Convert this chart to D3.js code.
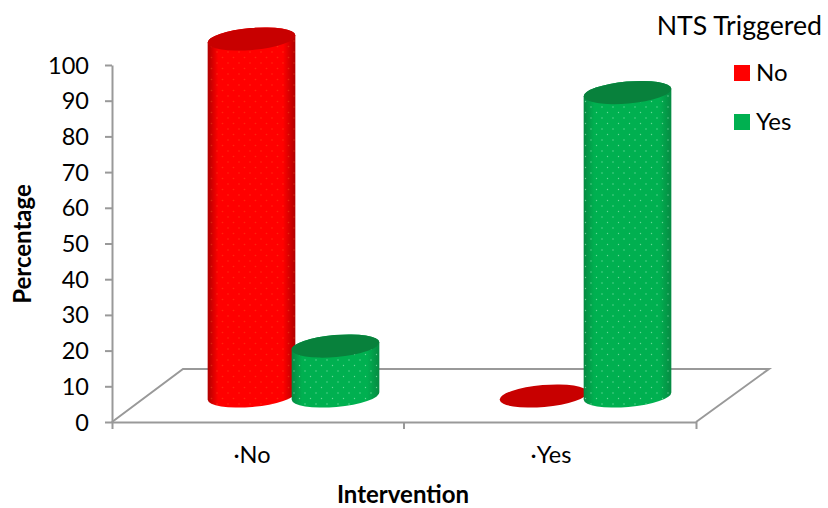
<!DOCTYPE html>
<html>
<head>
<meta charset="utf-8">
<script src="https://cdn.jsdelivr.net/npm/d3@7"></script>
<style>
  body { margin: 0; background: #fff; }
  text { font-family: Lato, "Open Sans", sans-serif; fill: #000; }
  .axis path, .axis line { stroke: #999; stroke-width: 2; }
  .axis text { font-size: 23.5px; font-family: Lato, sans-serif; fill: #000; }
</style>
</head>
<body>
<div id="chart"></div>
<script>
// chart data
var categories = ["·No", "·Yes"];
var seriesNames = ["No", "Yes"];
var noValues = [100, 0];
var yesValues = [14, 85];
var yTicks = [0, 10, 20, 30, 40, 50, 60, 70, 80, 90, 100];
var seriesColors = {No: "#ff0000", Yes: "#00b050"};

var width = 828, height = 508;

// the floor is a slanted plane behind the axis
var depthX = 71, depthY = 53;
var rx = 44, ry = 11, tilt = -5;

var svg = d3.select("#chart").append("svg")
    .attr("width", width)
    .attr("height", height);

var x = d3.scaleBand().domain(categories).range([112, 696]);
var inner = d3.scaleBand().domain(seriesNames).range([-84, 84]);
var y = d3.scaleLinear().domain([0, 100]).range([422, 65]);

var defs = svg.append("defs");

// side shading + dots for one colour
function addFill(name, edge, mid, dot, dotOpacity, dotR) {
  var grad = defs.append("linearGradient").attr("id", "grad" + name);
  grad.append("stop").attr("offset", "0%").attr("stop-color", edge);
  grad.append("stop").attr("offset", "12%").attr("stop-color", mid);
  grad.append("stop").attr("offset", "86%").attr("stop-color", mid);
  grad.append("stop").attr("offset", "100%").attr("stop-color", edge);

  var pat = defs.append("pattern").attr("id", "dots" + name)
      .attr("patternUnits", "userSpaceOnUse")
      .attr("width", 11).attr("height", 11);
  pat.append("circle").attr("cx", 2.5).attr("cy", 2.5).attr("r", dotR)
      .attr("fill", dot).attr("opacity", dotOpacity);
  pat.append("circle").attr("cx", 8).attr("cy", 8).attr("r", dotR)
      .attr("fill", dot).attr("opacity", dotOpacity);
}
addFill("No", "#b00000", "#ff0000", "#ff7a30", 0.3, 0.8);
addFill("Yes", "#068a42", "#00b050", "#a8f5c8", 0.6, 0.7);

// floor
var floorLine = d3.line();
svg.append("path")
    .attr("d", floorLine([[x.range()[0], y(0)], [x.range()[0] + depthX, y(0) - depthY],
                          [x.range()[1] + depthX + 2, y(0) - depthY], [x.range()[1], y(0)]]))
    .attr("fill", "none")
    .attr("stroke", "#999")
    .attr("stroke-width", 2);

// y axis
svg.append("g")
    .attr("class", "axis")
    .attr("transform", "translate(112,0)")
    .call(d3.axisLeft(y).tickValues(yTicks).tickSize(7).tickPadding(16).tickSizeOuter(0))
  .selectAll("text")
    .attr("dy", "0.34em");

// x axis, with the ticks between the categories
var labelShift = [-6, 1];
var xAxis = svg.append("g")
    .attr("class", "axis")
    .attr("transform", "translate(0,422)")
    .call(d3.axisBottom(x).tickSize(0).tickPadding(24).tickSizeOuter(7));
xAxis.selectAll(".tick text")
    .attr("transform", function(d, i) { return "translate(" + labelShift[i] + ",0)"; });
xAxis.append("line")
    .attr("x1", x(categories[1])).attr("x2", x(categories[1]))
    .attr("y1", 0).attr("y2", 7);

// cylinders
var rows = [];
categories.forEach(function(c, i) {
  rows.push({cat: c, series: "No", value: noValues[i]});
  rows.push({cat: c, series: "Yes", value: yesValues[i]});
});

function cx(d) {
  return x(d.cat) + x.bandwidth() / 2 + inner(d.series) + inner.bandwidth() / 2 + depthX / 2;
}
function base() { return y(0) - 26; }
function topY(d) { return y(d.value) - 26; }

var rad = tilt * Math.PI / 180;
var dx = rx * Math.cos(rad), dy = rx * Math.sin(rad);

function bodyPath(d) {
  var c = cx(d), t = topY(d), b = base();
  return "M" + (c - dx) + "," + (t - dy) +
    "L" + (c - dx) + "," + (b - dy) +
    "A" + rx + "," + ry + "," + tilt + ",0,0," + (c + dx) + "," + (b + dy) +
    "L" + (c + dx) + "," + (t + dy) +
    "A" + rx + "," + ry + "," + tilt + ",0,0," + (c - dx) + "," + (t - dy) + "Z";
}

var bars = svg.selectAll("g.bar")
    .data(rows)
  .enter().append("g")
    .attr("class", "bar");

var standing = bars.filter(function(d) { return d.value > 0; });
standing.append("path")
    .attr("d", bodyPath)
    .attr("fill", function(d) { return "url(#grad" + d.series + ")"; });
standing.append("path")
    .attr("d", bodyPath)
    .attr("fill", function(d) { return "url(#dots" + d.series + ")"; });

bars.append("ellipse")
    .attr("rx", rx)
    .attr("ry", ry)
    .attr("transform", function(d) {
      return "translate(" + cx(d) + "," + topY(d) + ") rotate(" + tilt + ")";
    })
    .attr("fill", function(d) { return d.series === "No" ? "#c80000" : "#08813c"; });

// axis titles
svg.append("text")
    .attr("transform", "translate(31,244) rotate(-90)")
    .attr("text-anchor", "middle")
    .style("font-size", "24px")
    .style("font-weight", "bold")
    .text("Percentage");

svg.append("text")
    .attr("x", 403)
    .attr("y", 503)
    .attr("text-anchor", "middle")
    .style("font-size", "24px")
    .style("font-weight", "bold")
    .text("Intervention");

// legend
svg.append("text")
    .attr("x", 822)
    .attr("y", 35)
    .attr("text-anchor", "end")
    .style("font-size", "26.7px")
    .text("NTS Triggered");

var legend = svg.selectAll("g.legend")
    .data(seriesNames)
  .enter().append("g")
    .attr("class", "legend")
    .attr("transform", function(d, i) { return "translate(734," + (65 + i * 49) + ")"; });
legend.append("rect")
    .attr("width", 16)
    .attr("height", 16)
    .attr("fill", function(d) { return seriesColors[d]; });
legend.append("text")
    .attr("x", 22)
    .attr("y", 16)
    .style("font-size", "24px")
    .text(function(d) { return d; });
</script>
</body>
</html>
